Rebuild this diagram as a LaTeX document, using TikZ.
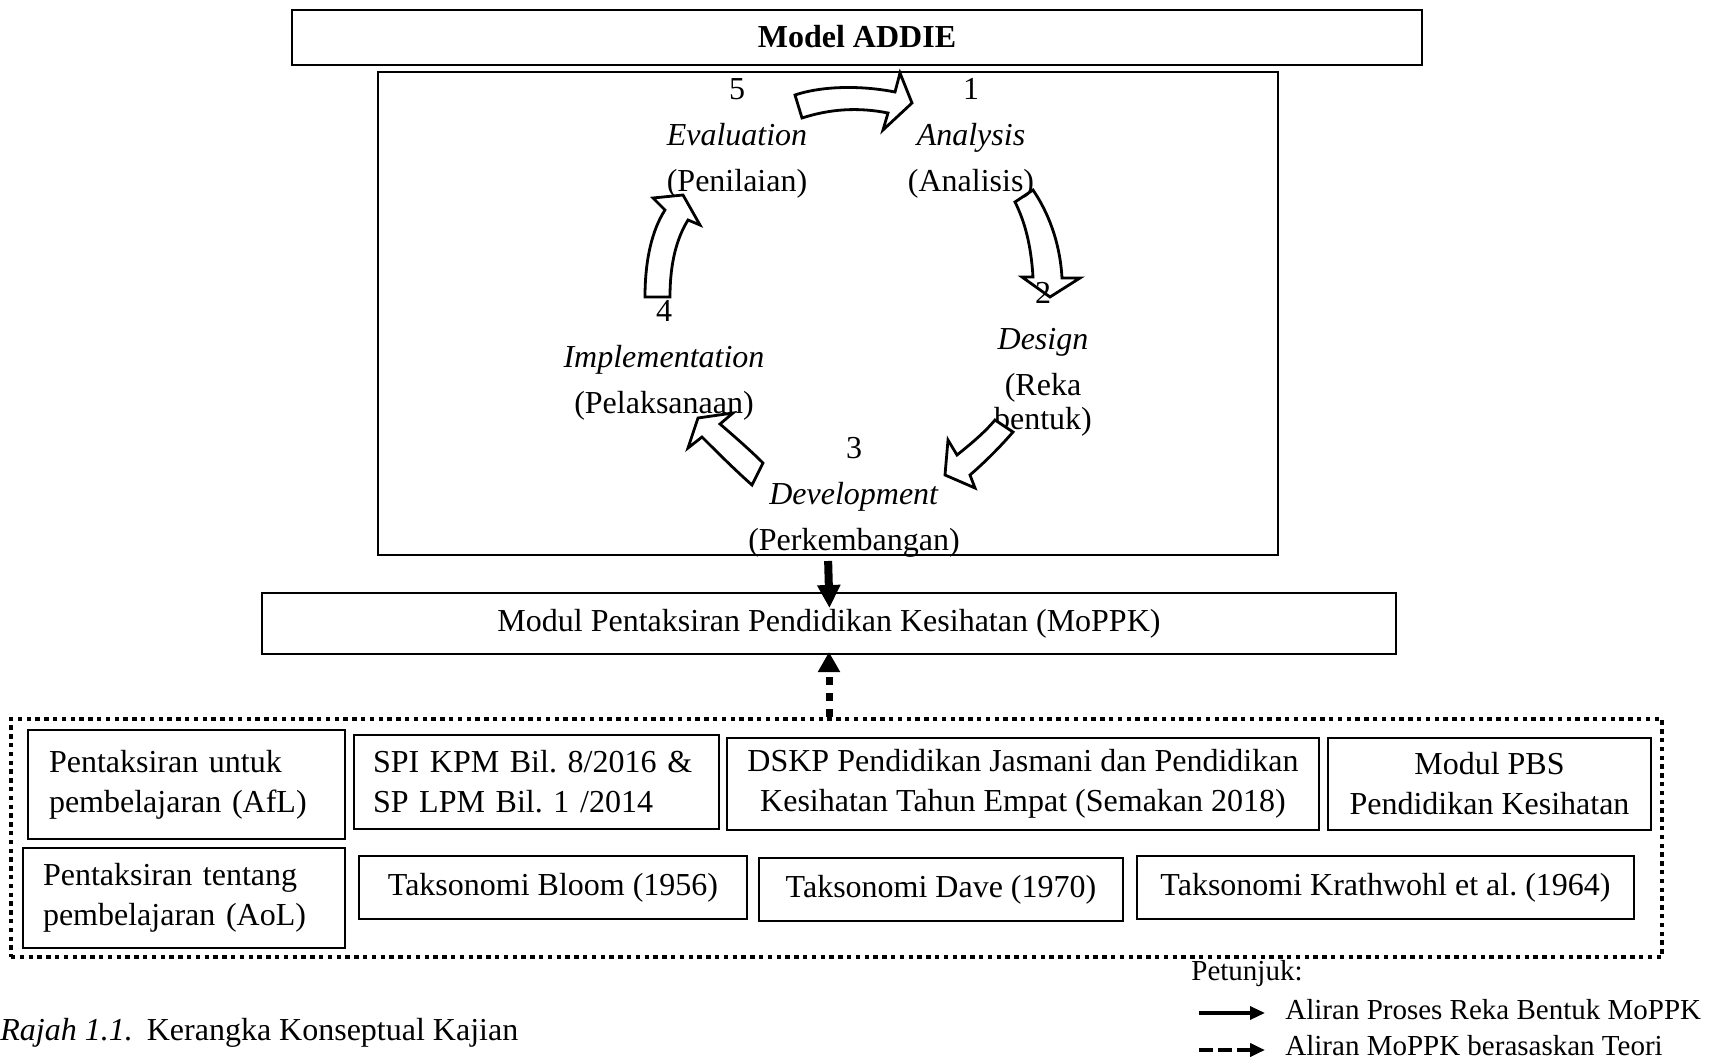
\documentclass[tikz,border=0pt]{standalone}
\usepackage{fontspec}
\setmainfont{Liberation Serif}
\usetikzlibrary{arrows.meta,positioning}
\frenchspacing
\newcommand\boxfont{\fontsize{16}{20}\selectfont}
\newcommand\stagefont{\fontsize{16}{23}\selectfont}
\newcommand\keyfont{\fontsize{14.5}{18}\selectfont}
\tikzset{
  basic/.style      = {draw, rectangle, line width=1pt, font=\boxfont},
  titlebox/.style   = {basic, font=\boxfont\bfseries, text depth=1pt},
  leftbox/.style    = {basic, align=left, inner ysep=2pt},
  midbox/.style     = {basic, align=center, inner xsep=3pt, inner ysep=2pt},
  theorybox/.style  = {draw, rectangle, line width=2.4pt, dash pattern=on 2.2pt off 2.2pt},
  stage/.style      = {align=center, inner sep=0pt, font=\stagefont},
  stagearrow/.style = {draw, fill=white, line width=1.4pt, line join=miter},
  flow/.style       = {-{Triangle[width=11pt,length=11.5pt]}, line width=4pt},
  theoryflow/.style = {-{Triangle[width=10.5pt,length=10pt]}, line width=3.5pt,
                       dash pattern=on 4pt off 4pt},
  keytext/.style    = {anchor=base west, inner sep=0pt, font=\keyfont},
  keyflow/.style    = {-{Triangle[width=6.5pt,length=7.5pt]}, line width=1.6pt},
  keydash/.style    = {keyflow, line width=2.2pt, dash pattern=on 7pt off 2.5pt}
}

\begin{document}
\begin{tikzpicture}[x=0.5pt, y=-0.5pt]
  \useasboundingbox (0,0) rectangle (1710,1060);

  % ADDIE model, title and frame
  \node[titlebox, minimum width=565pt, minimum height=27.5pt] (title) at (857,37.5) {Model ADDIE};
  \node[basic, minimum width=450pt, minimum height=241.5pt] (addie) at (828,313.5) {};

  % arrows of the cycle that sit under the labels
  \path[stagearrow] (795,95) .. controls (825,85) and (865,86) .. (895,92) -- (900,73) -- (912,103)
    -- (883,130) -- (888,113) .. controls (858,107) and (830,109) .. (802,118) -- cycle;
  \path[stagearrow] (1015,202) -- (1033,190) .. controls (1048,212) and (1060,242) .. (1062,278)
    -- (1080,278) -- (1050,297) -- (1022,277) -- (1033,277) .. controls (1031,245) and (1025,222) .. (1015,202) -- cycle;

  % the five stages
  \node[stage] (analysis) at (971,138) {1\\\textit{Analysis}\\(Analisis)};
  \node[stage] (design) at (1043,359) {2\\\textit{Design}\\(Reka\\[-6pt]bentuk)};
  \node[stage] (development) at (854,497) {3\\\textit{Development}\\(Perkembangan)};
  \node[stage] (implementation) at (664,360) {4\\\textit{Implementation}\\(Pelaksanaan)};
  \node[stage] (evaluation) at (737,138) {5\\\textit{Evaluation}\\(Penilaian)};

  % arrows of the cycle drawn over the labels
  \path[stagearrow] (995,420) -- (1013,432) .. controls (1000,447) and (985,462) .. (970,475) -- (975,488)
    -- (945,475) -- (948,440) -- (957,455) .. controls (972,443) and (985,432) .. (995,420) -- cycle;
  \path[stagearrow] (763,463) -- (752,485) .. controls (735,470) and (717,452) .. (702,437) -- (688,448)
    -- (698,418) -- (733,413) -- (720,424) .. controls (735,437) and (750,450) .. (763,463) -- cycle;
  \path[stagearrow] (645,297) -- (670,297) .. controls (670,262) and (677,238) .. (688,220) -- (700,225)
    -- (683,195) -- (653,198) -- (665,210) .. controls (652,230) and (645,260) .. (645,297) -- cycle;

  % the module
  \node[basic, minimum width=567pt, minimum height=30.5pt] (moppk) at (829,623.5)
    {Modul Pentaksiran Pendidikan Kesihatan (MoPPK)};

  % theories behind the module
  \node[theorybox, minimum width=825.5pt, minimum height=119pt] (theory) at (836.5,838) {};
  \node[leftbox, inner xsep=10.5pt, text width=137.5pt, minimum height=54.5pt] (afl) at (186.5,784.5)
    {Pentaksiran untuk\\pembelajaran (AfL)};
  \node[leftbox, inner xsep=10pt, text width=141pt, minimum height=50pt] (aol) at (184,898)
    {Pentaksiran tentang\\pembelajaran (AoL)};
  \node[leftbox, inner xsep=9.5pt, text width=163.5pt, minimum height=47pt] (spi) at (536.5,782)
    {SPI KPM Bil. 8/2016 \&\\SP LPM Bil. 1 /2014};
  \node[midbox, minimum width=296pt, minimum height=46pt] (dskp) at (1023,783.5)
    {DSKP Pendidikan Jasmani dan Pendidikan\\Kesihatan Tahun Empat (Semakan 2018)};
  \node[midbox, minimum width=161.5pt, minimum height=46pt] (pbs) at (1489.5,783.5)
    {Modul PBS\\Pendidikan Kesihatan};
  \foreach \nm/\cx/\cy/\w/\txt in {bloom/553/887.5/194/Taksonomi Bloom (1956),
      dave/941/889.5/182/Taksonomi Dave (1970),
      krath/1385.5/887.5/248.5/Taksonomi Krathwohl et al. (1964)}
    \node[midbox, minimum width=\w pt, minimum height=31.5pt] (\nm) at (\cx,\cy) {\txt};

  % flows into the module
  \draw[flow, shorten <=2.5pt, shorten >=-8pt] (addie.south) -- (moppk.north);
  \draw[theoryflow, shorten >=-1.5pt] (theory.north -| moppk.south) -- (moppk.south);

  % legend
  \node[keytext] (petunjuk) at (1191,980) {Petunjuk:};
  \node[keytext] (keysolid) at (1285,1019) {Aliran Proses Reka Bentuk MoPPK};
  \node[keytext] (keydashed) at (1285,1055) {Aliran MoPPK berasaskan Teori};
  \coordinate (ks) at (1199,1013);
  \coordinate (kd) at (1199,1050);
  \draw[keyflow, shorten >=10pt] (ks) -- (ks -| keysolid.west);
  \draw[keydash, shorten >=10pt] (kd) -- (kd -| keydashed.west);

  % caption
  \node[anchor=base west, inner sep=0pt, font=\boxfont] (caption) at (0,1040)
    {\textit{Rajah 1.1.}\hspace{7pt}Kerangka Konseptual Kajian};
\end{tikzpicture}
\end{document}
